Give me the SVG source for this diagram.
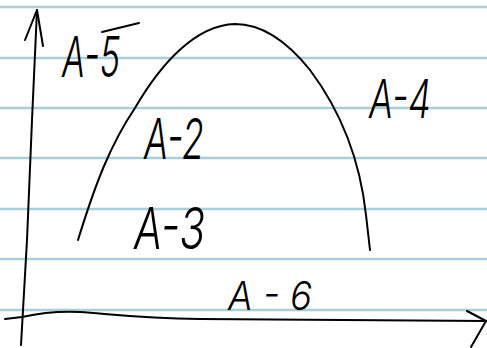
<svg xmlns="http://www.w3.org/2000/svg" width="487" height="348" viewBox="0 0 487 348">
<style>
.rule{stroke:#a9cddb;stroke-width:2.5;fill:none}
.ink{stroke:#000;stroke-width:2;fill:none;stroke-linecap:round;stroke-linejoin:round}
.lbl{font-family:Inter,"Liberation Sans",sans-serif;font-weight:300;font-style:italic;fill:#000}
</style>
<rect width="487" height="348" fill="#fff"/>
<g id="paper">
<line class="rule" x1="0" y1="7" x2="487" y2="7"/>
<line class="rule" x1="0" y1="58" x2="487" y2="58"/>
<line class="rule" x1="0" y1="108" x2="487" y2="108"/>
<line class="rule" x1="0" y1="158" x2="487" y2="158"/>
<line class="rule" x1="0" y1="209" x2="487" y2="209"/>
<line class="rule" x1="0" y1="259" x2="487" y2="259"/>
<line class="rule" x1="0" y1="310" x2="487" y2="310"/>
</g>
<g id="connectors">
<path class="ink" d="M21,345 L27,240 L32,120 L37,10"/>
<path class="ink" d="M25,40 L37,10 L43,46"/>
<path class="ink" d="M5,319 L22,317 C40,313 60,311 80,312 C110,314 140,318 200,319 L486,321"/>
<path class="ink" d="M467,311 L486,321 L471,347"/>
<path class="ink" d="M78,240 C95,185 110,145 135,108 C160,65 195,25 235,24 C265,24 290,45 310,70 C340,110 360,160 366,215 L370,250"/>
</g>
<g id="A-5"><text class="lbl" x="62" y="77" font-size="56" textLength="58" lengthAdjust="spacingAndGlyphs">A-5</text><path class="ink" d="M102,32 L139,23"/></g>
<g id="A-2"><text class="lbl" x="144" y="159" font-size="56" textLength="60" lengthAdjust="spacingAndGlyphs">A-2</text></g>
<g id="A-3"><text class="lbl" x="134" y="249" font-size="58" textLength="71" lengthAdjust="spacingAndGlyphs">A-3</text></g>
<g id="A-4"><text class="lbl" x="369" y="118" font-size="54" textLength="62" lengthAdjust="spacingAndGlyphs">A-4</text></g>
<g id="A-6"><text class="lbl" x="228" y="310" font-size="40" textLength="84" lengthAdjust="spacingAndGlyphs">A - 6</text></g>
</svg>
